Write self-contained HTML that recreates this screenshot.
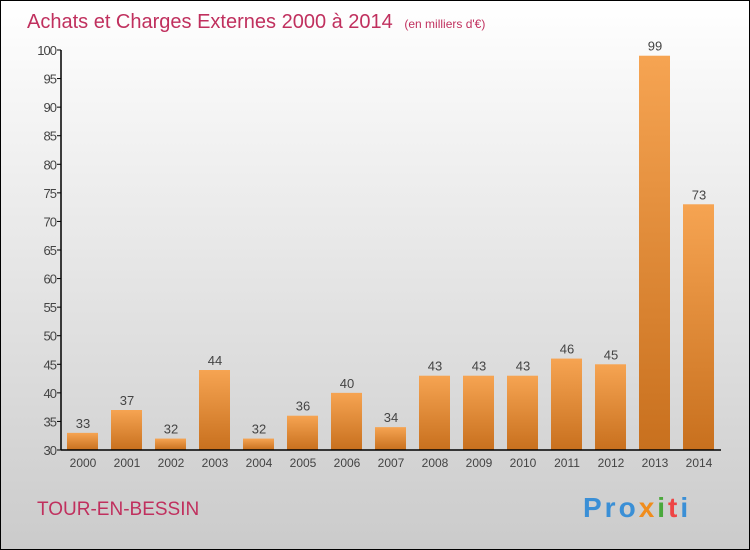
<!DOCTYPE html>
<html><head><meta charset="utf-8"><style>
body{margin:0}
#c{position:relative;width:748px;height:548px;border:1px solid #000;background:linear-gradient(#fff,#cbcbcb);font-family:"Liberation Sans",sans-serif;overflow:hidden}
</style></head><body>
<div id="c">
<svg width="748" height="548" style="position:absolute;left:0;top:0" id="svg">
<defs><linearGradient id="bg" x1="0" y1="0" x2="0" y2="1"><stop offset="0" stop-color="#f6a452"/><stop offset="1" stop-color="#c8701e"/></linearGradient></defs>
<text x="26" y="27" font-size="20" fill="#c0305e">Achats et Charges Externes 2000 à 2014 <tspan font-size="12" dx="6">(en milliers d'€)</tspan></text>
<text x="36" y="514" font-size="19" fill="#c0305e">TOUR-EN-BESSIN</text>
<text x="582" y="516" font-size="28" font-weight="bold" letter-spacing="3"><tspan fill="#3a8fd6">Pro</tspan><tspan fill="#f08c1c">x</tspan><tspan fill="#4aa83c">i</tspan><tspan fill="#e44">t</tspan><tspan fill="#3a8fd6">i</tspan></text>
<g id="plot"></g>
</svg>
</div>
<script>
const years=["2000","2001","2002","2003","2004","2005","2006","2007","2008","2009","2010","2011","2012","2013","2014"];
const values=[33,37,32,44,32,36,40,34,43,43,43,46,45,99,73];
const ticks=[30,35,40,45,50,55,60,65,70,75,80,85,90,95,100];
const ns="http://www.w3.org/2000/svg";
const g=document.getElementById('plot');
const y=v=>449-(v-30)*400/70;
const x=i=>81+i*44;
function mk(t,a){const e=document.createElementNS(ns,t);for(const k in a)e.setAttribute(k,a[k]);g.appendChild(e);return e;}
ticks.forEach(t=>{
 const l=mk('line',{x1:56,x2:60,y1:y(t),y2:y(t),stroke:'#000'});
 
 
 const tx=mk('text',{x:55,y:y(t)+5,'text-anchor':'end','font-size':13,fill:'#444','letter-spacing':'-1'});
 tx.textContent=t;
 
 
});
values.forEach((v,i)=>{
 const r=mk('rect',{x:x(i)-15,y:y(v),width:31,height:y(30)-y(v),fill:'url(#bg)'});
 
 
 const vl=mk('text',{x:x(i)+1,y:y(v)-5,'text-anchor':'middle','font-size':13,fill:'#444'});
 vl.textContent=v;
 
 
 const xl=mk('text',{x:x(i)+1,y:466,'text-anchor':'middle','font-size':12,fill:'#444'});
 xl.textContent=years[i];
 
 
});
const ya=mk('line',{x1:60,x2:60,y1:y(100),y2:y(30),stroke:'#000','stroke-width':1.5});


const xa=mk('line',{x1:60,x2:720,y1:y(30),y2:y(30),stroke:'#000','stroke-width':1.5});


</script>
</body></html>
